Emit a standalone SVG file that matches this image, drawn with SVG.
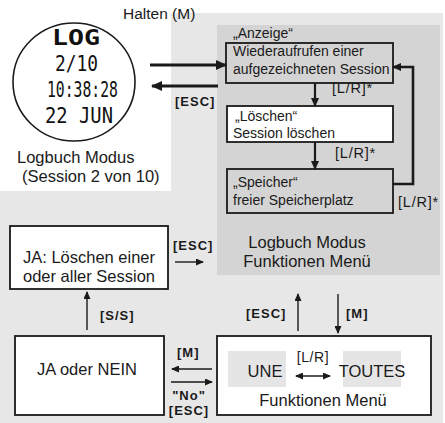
<svg xmlns="http://www.w3.org/2000/svg" width="445" height="423" viewBox="0 0 445 423">
<defs>
<style>
.t{font-family:"Liberation Sans",Arial,sans-serif;fill:#1a1a1a;}
.m{font-size:16.5px;}
.s{font-size:14px;}
.b{font-family:"Liberation Sans",Arial,sans-serif;font-weight:bold;font-size:13px;letter-spacing:1px;fill:#1a1a1a;}
.lr{font-family:"Liberation Sans",Arial,sans-serif;font-size:14.5px;letter-spacing:0.8px;fill:#1a1a1a;}
.lcd{font-family:"DejaVu Sans Mono",monospace;fill:#111;font-size:22px;}
.box{stroke:#1a1a1a;stroke-width:1.8;}
.c{fill:none;stroke:#1a1a1a;}
.thick{stroke-width:3.2;}
.mid{stroke-width:2.2;}
.thin{stroke-width:1.4;}
</style>
<marker id="ahL" markerUnits="userSpaceOnUse" markerWidth="11" markerHeight="10" refX="10" refY="5" orient="auto"><path d="M0,0 L11,5 L0,10 Z" fill="#1a1a1a"/></marker>
<marker id="ahM" markerUnits="userSpaceOnUse" markerWidth="9" markerHeight="8" refX="8" refY="4" orient="auto"><path d="M0,0 L9,4 L0,8 Z" fill="#1a1a1a"/></marker>
<marker id="ahS" markerUnits="userSpaceOnUse" markerWidth="8" markerHeight="7" refX="7" refY="3.5" orient="auto-start-reverse"><path d="M0,0 L8,3.5 L0,7 Z" fill="#1a1a1a"/></marker>
</defs>

<g id="background">
<rect x="0" y="0" width="445" height="423" fill="#ffffff"/>
<polygon points="171,13 443,13 443,423 0,423 0,191 171,191" fill="#e7e7e8"/>
</g>

<g id="panel-logbuch-funktionen">
<rect x="217" y="25" width="223" height="250" fill="#d4d4d4"/>
<text class="t m" x="307" y="248" text-anchor="middle">Logbuch Modus</text>
<text class="t m" x="307" y="267" text-anchor="middle">Funktionen Menü</text>
</g>

<g id="node-logbuch-display">
<ellipse cx="74" cy="82" rx="61" ry="59" fill="#ffffff" stroke="#1a1a1a" stroke-width="1.6"/>
<text class="lcd" x="52" y="45" font-weight="bold" textLength="48" lengthAdjust="spacingAndGlyphs">LOG</text>
<text class="lcd" x="55" y="71" textLength="43" lengthAdjust="spacingAndGlyphs">2/10</text>
<text class="lcd" x="47" y="97" textLength="71" lengthAdjust="spacingAndGlyphs">10:38:28</text>
<text class="lcd" x="45" y="123" textLength="68" lengthAdjust="spacingAndGlyphs">22 JUN</text>
<text class="t m" x="17" y="163">Logbuch Modus</text>
<text class="t m" x="22" y="182">(Session 2 von 10)</text>
</g>

<g id="label-halten">
<text class="t" x="123" y="19" font-size="15.5">Halten (M)</text>
</g>

<g id="node-anzeige">
<text class="t s" x="233" y="38">„Anzeige“</text>
<rect class="box" x="226" y="43" width="167" height="40" fill="#d4d4d4"/>
<text class="t s" x="233" y="56">Wiederaufrufen einer</text>
<text class="t s" x="233" y="74">aufgezeichneten Session</text>
</g>

<g id="node-loeschen">
<rect class="box" x="227" y="106" width="166" height="36" fill="#ffffff"/>
<text class="t s" x="235" y="121">„Löschen“</text>
<text class="t s" x="233" y="138">Session löschen</text>
</g>

<g id="node-speicher">
<rect class="box" x="227" y="169" width="166" height="44" fill="#d4d4d4"/>
<text class="t s" x="233" y="187">„Speicher“</text>
<text class="t s" x="233" y="205">freier Speicherplatz</text>
</g>

<g id="node-ja-loeschen">
<rect class="box" x="10" y="226" width="158" height="63" fill="#ffffff"/>
<text class="t m" x="89" y="263" text-anchor="middle">JA: Löschen einer</text>
<text class="t m" x="89" y="282" text-anchor="middle">oder aller Session</text>
</g>

<g id="node-ja-nein">
<rect class="box" x="15" y="336" width="149" height="79" fill="#ffffff"/>
<text class="t m" x="87" y="375" text-anchor="middle">JA oder NEIN</text>
</g>

<g id="node-funktionen-menu">
<rect class="box" x="217" y="336" width="214" height="79" fill="#ffffff"/>
<rect x="228" y="351" width="58" height="36" fill="#e5e5e5"/>
<rect x="343" y="351" width="58" height="36" fill="#e5e5e5"/>
<text class="t m" x="265" y="377" text-anchor="middle">UNE</text>
<text class="t m" x="372" y="377" text-anchor="middle">TOUTES</text>
<text class="t m" x="323" y="406" text-anchor="middle">Funktionen Menü</text>
</g>

<g id="connectors">
<line class="c thick" x1="150" y1="65" x2="226" y2="65" marker-end="url(#ahL)"/>
<line class="c thick" x1="218" y1="86" x2="152" y2="86" marker-end="url(#ahL)"/>
<text class="b" x="175" y="106">[ESC]</text>

<line class="c mid" x1="315" y1="83" x2="315" y2="106" marker-end="url(#ahM)"/>
<text class="lr" x="332" y="93">[L/R]*</text>
<line class="c mid" x1="315" y1="142" x2="315" y2="169" marker-end="url(#ahM)"/>
<text class="lr" x="335" y="158">[L/R]*</text>
<polyline class="c" stroke-width="2.6" points="393,184 413,184 413,67 393,67" marker-end="url(#ahM)"/>
<text class="lr" x="398" y="207">[L/R]*</text>

<text class="b" x="173" y="250">[ESC]</text>
<line class="c thin" x1="175" y1="262" x2="203" y2="262" marker-end="url(#ahS)"/>

<line class="c thin" x1="87" y1="330" x2="87" y2="292" marker-end="url(#ahS)"/>
<text class="b" x="100" y="320">[S/S]</text>

<text class="b" x="177" y="357">[M]</text>
<line class="c thin" x1="212" y1="369" x2="172" y2="369" marker-end="url(#ahS)"/>
<line class="c thin" x1="171" y1="382" x2="212" y2="382" marker-end="url(#ahS)"/>
<text class="b" x="189" y="400" font-size="12" text-anchor="middle">"No"</text>
<text class="b" x="189" y="415" font-size="12" text-anchor="middle">[ESC]</text>

<line class="c thin" x1="298" y1="331" x2="298" y2="294" marker-end="url(#ahS)"/>
<text class="b" x="246" y="318">[ESC]</text>
<line class="c thin" x1="338" y1="294" x2="338" y2="333" marker-end="url(#ahS)"/>
<text class="b" x="346" y="318">[M]</text>

<text class="t" x="313" y="362" font-size="14" letter-spacing="0.6" text-anchor="middle">[L/R]</text>
<line class="c thin" x1="296" y1="376" x2="330" y2="376" marker-start="url(#ahS)" marker-end="url(#ahS)"/>
</g>
</svg>
